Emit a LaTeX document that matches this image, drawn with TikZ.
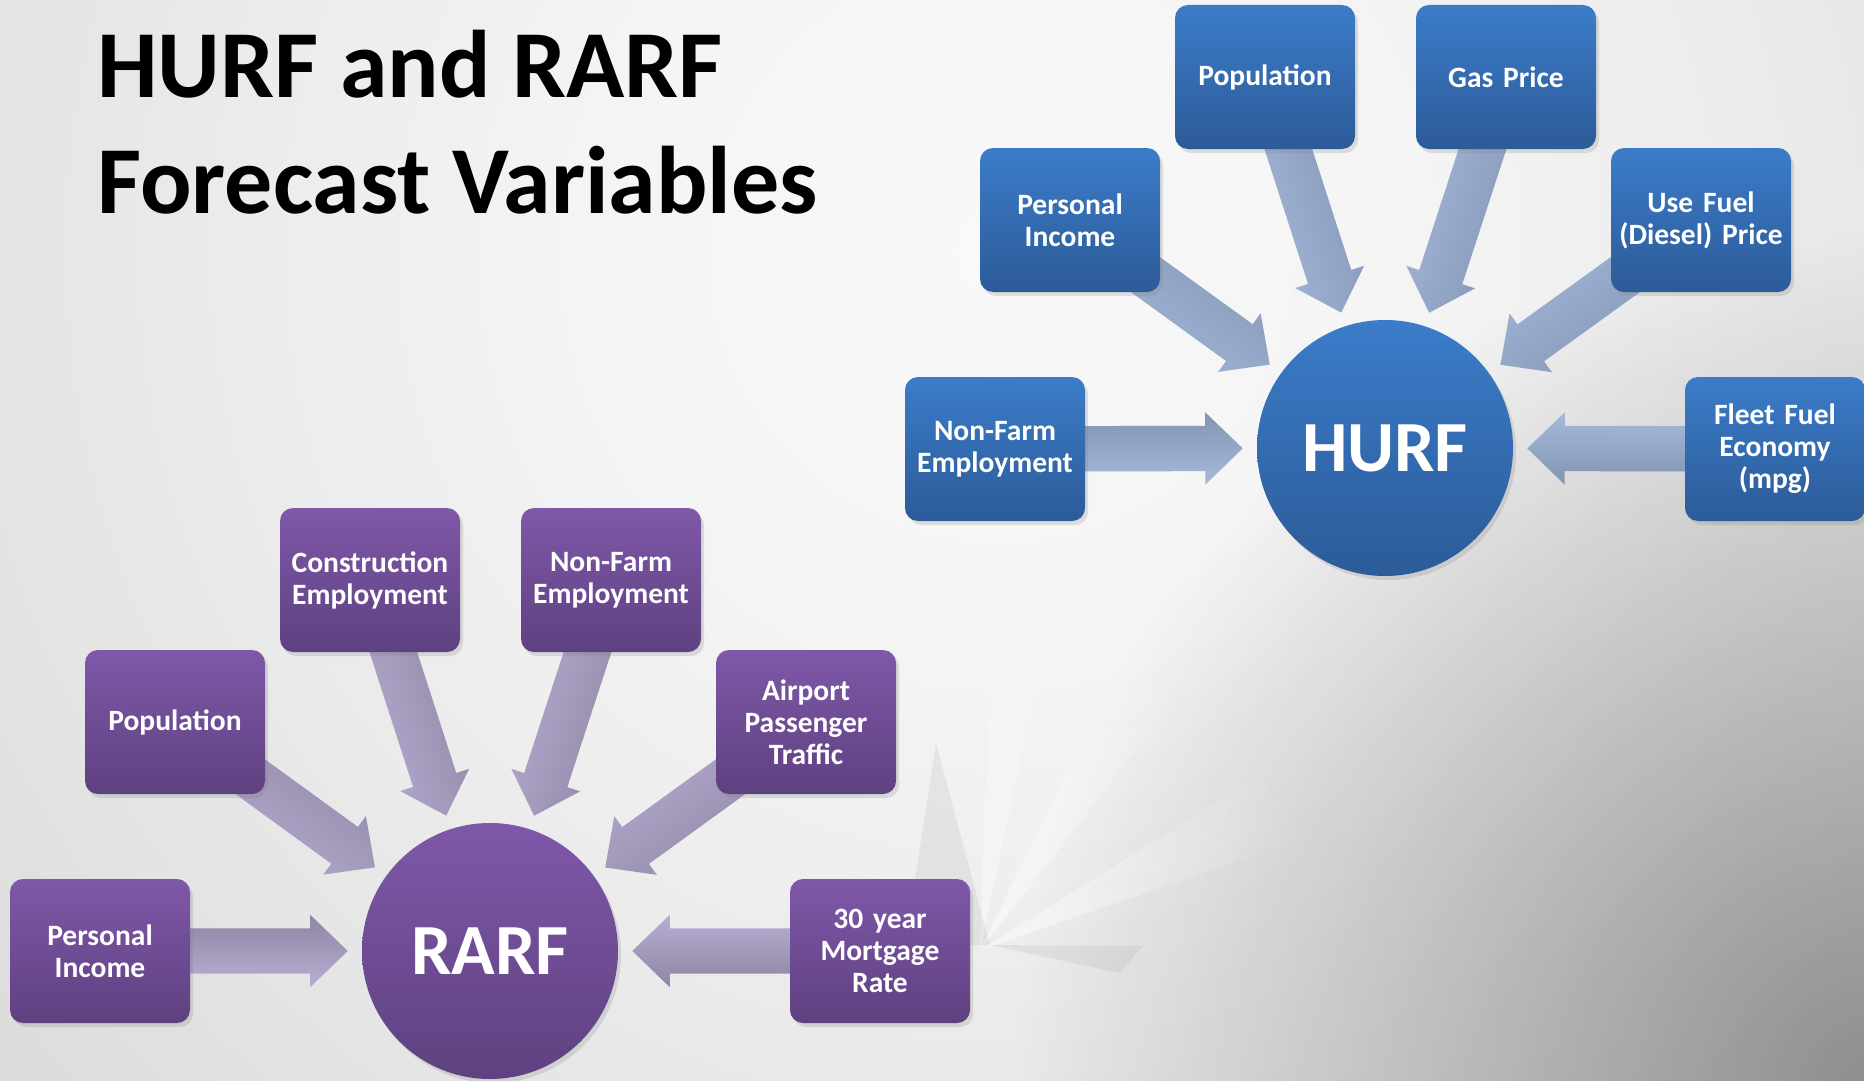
\documentclass[tikz,border=0pt]{standalone}
\usepackage{fontspec}
\setmainfont{Carlito}
\usetikzlibrary{calc,shapes.arrows,shadows,fadings}

\definecolor{hurftop}{HTML}{3B7CC9}
\definecolor{hurfbot}{HTML}{2C5B98}
\definecolor{rarftop}{HTML}{7F58A9}
\definecolor{rarfbot}{HTML}{5E4180}
\definecolor{hlight}{HTML}{A8BADC}
\definecolor{hdark}{HTML}{8294B2}
\definecolor{rlight}{HTML}{B8AED4}
\definecolor{rdark}{HTML}{8E85A3}
\definecolor{bgA}{HTML}{F9F9F9}
\definecolor{bgB}{HTML}{F4F4F4}
\definecolor{bgC}{HTML}{ECECEC}
\definecolor{bgD}{HTML}{E0E0E0}
\definecolor{bgE}{HTML}{D6D6D6}
\definecolor{bgF}{HTML}{C6C6C6}
\definecolor{bgG}{HTML}{B8B8B8}

\pgfdeclareradialshading{backdrop}{\pgfpoint{0bp}{0bp}}{color(0bp)=(bgA); color(8bp)=(bgB); color(14bp)=(bgC); color(22bp)=(bgD); color(28bp)=(bgE); color(36bp)=(bgF); color(50bp)=(bgG)}
\tikzfading[name=cornerfade, inner color=transparent!0, outer color=transparent!100]
\tikzfading[name=rayfade, inner color=transparent!20, outer color=transparent!100]

\pgfdeclarelayer{bg}
\pgfdeclarelayer{feeds}
\pgfsetlayers{bg,feeds,main}

\tikzset{
  title/.style={anchor=base west, inner sep=0pt, font=\fontsize{96}{115}\selectfont\bfseries},
  varbox/.style={rounded corners=13pt, minimum width=180pt, minimum height=144pt,
    text width=170pt, align=center, inner sep=0pt, text=white,
    font=\fontsize{29.5}{32}\selectfont\bfseries,
    drop shadow={shadow xshift=3pt, shadow yshift=-4pt, opacity=0.22}},
  hbox/.style={varbox, top color=hurftop, bottom color=hurfbot},
  rbox/.style={varbox, top color=rarftop, bottom color=rarfbot},
  hub/.style={circle, minimum size=256pt, inner sep=0pt, text=white,
    font=\fontsize{72}{76}\selectfont\bfseries,
    drop shadow={shadow xshift=3pt, shadow yshift=-4pt, opacity=0.22}},
  feed/.style={single arrow, anchor=tip, inner xsep=0pt, inner ysep=22.5pt,
    single arrow head extend=13.5pt, single arrow tip angle=88},
  hfeed/.style={feed, left color=hlight, right color=hdark},
  rfeed/.style={feed, left color=rlight, right color=rdark},
  ray/.style={white, opacity=0.6, path fading=rayfade, fit fading=false,
    fading transform={shift={(980,950)}, scale=14}},
  shadowray/.style={black, opacity=0.05}
}

% block arrow from a box towards its hub, tip stops short of the hub
\newcommand\feed[3]{%
  \path let \p1=(#1.center), \p2=($(#2.center)!142pt!(#1.center)$),
    \n1={atan2(\y2-\y1,\x2-\x1)}, \n2={veclen(\x2-\x1,\y2-\y1)}, \n3={\n1+180} in
    node[#3, rotate=\n1, minimum height=\n2, shading angle=\n3] (#1-feed) at (\p2) {};}

\begin{document}
\begin{tikzpicture}[x=1pt,y=-1pt]
\useasboundingbox (0,0) rectangle (1864,1081);

\begin{pgfonlayer}{bg}
\clip (0,0) rectangle (1864,1081);
\shade[shading=backdrop] (1000,250) circle (1320);
\fill[black, opacity=0.36, path fading=cornerfade] (1864,1081) circle (850);
% faint rays behind the lower diagram
\fill[ray] (980,950) -- (1146,167) -- (1008,151) -- cycle;
\fill[ray] (980,950) -- (1473,320) -- (1330,231) -- cycle;
\fill[ray] (980,950) -- (1737,689) -- (1658,526) -- cycle;
\fill[shadowray] (905,945) -- (936,743) -- (990,945) -- cycle;
\fill[shadowray] (990,945) -- (1143,946) -- (1119,973) -- cycle;
\end{pgfonlayer}

\node[title] (title1) at (97,98) {HURF and RARF};
\node[title] (title2) at (97,213) {Forecast Variables};

% HURF
\node[hub, top color=hurftop, bottom color=hurfbot] (hurf) at (1385,448) {HURF};
\node[hbox] (hnonfarm) at (995,449) {Non-Farm\\Employment};
\node[hbox] (hpersonal) at (1070,220) {Personal\\Income};
\node[hbox] (hpop) at (1265,77) {Population};
\node[hbox] (hgas) at (1506,77) {Gas Price};
\node[hbox] (husefuel) at (1701,220) {Use Fuel\\(Diesel) Price};
\node[hbox] (hfleet) at (1775,449) {Fleet Fuel\\Economy\\(mpg)};

% RARF
\node[hub, top color=rarftop, bottom color=rarfbot] (rarf) at (490,951) {RARF};
\node[rbox] (rpersonal) at (100,951) {Personal\\Income};
\node[rbox] (rpop) at (175,722) {Population};
\node[rbox] (rconstr) at (370,580) {Construction\\Employment};
\node[rbox] (rnonfarm) at (611,580) {Non-Farm\\Employment};
\node[rbox] (rairport) at (806,722) {Airport\\Passenger\\Traffic};
\node[rbox] (rmortgage) at (880,951) {30 year\\Mortgage\\Rate};

\begin{pgfonlayer}{feeds}
\feed{hnonfarm}{hurf}{hfeed}
\feed{hpersonal}{hurf}{hfeed}
\feed{hpop}{hurf}{hfeed}
\feed{hgas}{hurf}{hfeed}
\feed{husefuel}{hurf}{hfeed}
\feed{hfleet}{hurf}{hfeed}
\feed{rpersonal}{rarf}{rfeed}
\feed{rpop}{rarf}{rfeed}
\feed{rconstr}{rarf}{rfeed}
\feed{rnonfarm}{rarf}{rfeed}
\feed{rairport}{rarf}{rfeed}
\feed{rmortgage}{rarf}{rfeed}
\end{pgfonlayer}

\end{tikzpicture}
\end{document}
